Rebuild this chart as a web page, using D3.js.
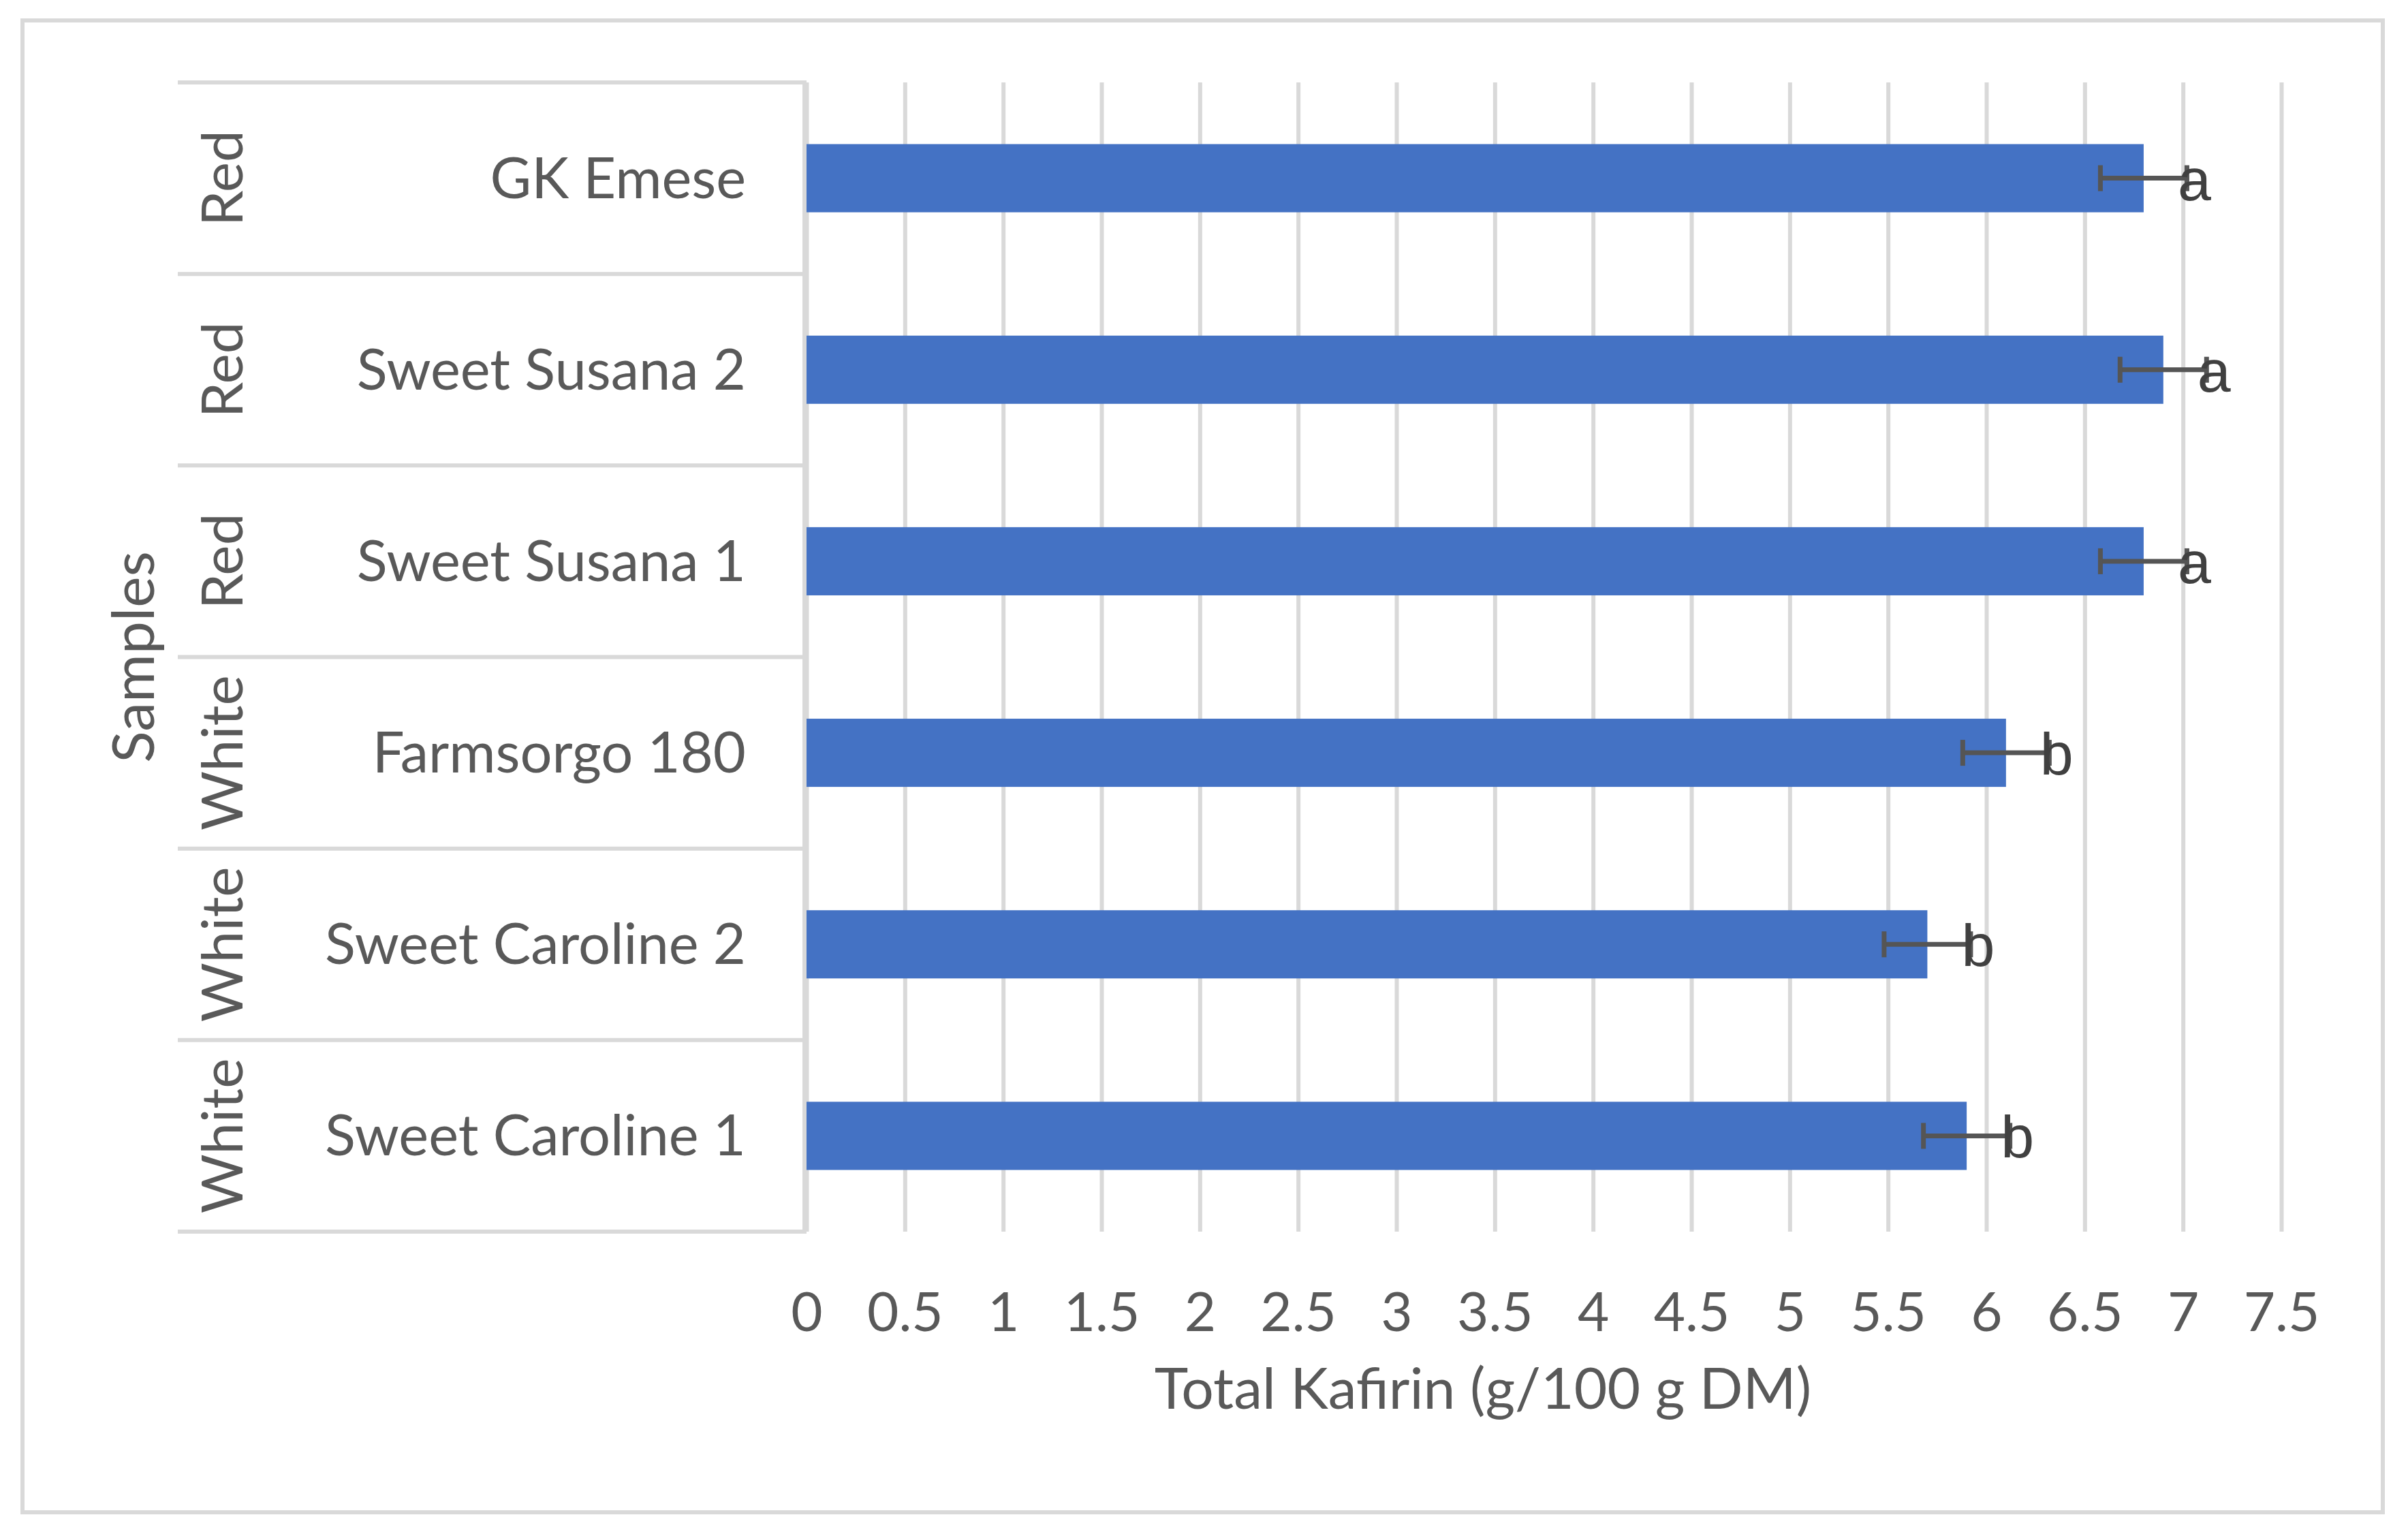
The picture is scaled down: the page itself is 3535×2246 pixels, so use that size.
<!DOCTYPE html>
<html>
<head>
<meta charset="utf-8">
<script src="https://cdn.jsdelivr.net/npm/d3@7"></script>
<style>
  html, body { margin: 0; padding: 0; background: #fff; }
  svg { display: block; }
</style>
</head>
<body>
<div id="chart"></div>
<script>
// data, top row first
var samples = ["GK Emese", "Sweet Susana 2", "Sweet Susana 1", "Farmsorgo 180", "Sweet Caroline 2", "Sweet Caroline 1"];
var groups = ["Red", "Red", "Red", "White", "White", "White"];
var kafirin = [6.80, 6.90, 6.80, 6.10, 5.70, 5.90];
var errors = [0.22, 0.22, 0.22, 0.22, 0.22, 0.22];
var letters = ["a", "a", "a", "b", "b", "b"];
var xTicks = [0, 0.5, 1, 1.5, 2, 2.5, 3, 3.5, 4, 4.5, 5, 5.5, 6, 6.5, 7, 7.5];
var xTickLabels = ["0", "0.5", "1", "1.5", "2", "2.5", "3", "3.5", "4", "4.5", "5", "5.5", "6", "6.5", "7", "7.5"];

var width = 3535, height = 2246;
var plot = { left: 1184, right: 3349, top: 121, bottom: 1808 };
var font = "Lato, 'Open Sans', sans-serif";
var textColor = "#595959";
var gridColor = "#d9d9d9";

var svg = d3.select("#chart").append("svg")
    .attr("width", width)
    .attr("height", height);

// outer chart border
svg.append("rect")
    .attr("x", 33).attr("y", 30)
    .attr("width", 3465).attr("height", 2190)
    .attr("fill", "#fff")
    .attr("stroke", gridColor)
    .attr("stroke-width", 6);

var x = d3.scaleLinear()
    .domain([0, 7.5])
    .range([plot.left, plot.right]);

var y = d3.scaleBand()
    .domain(samples)
    .range([plot.top, plot.bottom])
    .paddingInner(0.644)
    .paddingOuter(0.322);

// one full row per category, for separators and labels
var rows = d3.scaleBand()
    .domain(samples)
    .range([plot.top, plot.bottom]);

// vertical gridlines + tick labels
var xAxis = svg.append("g")
    .attr("transform", `translate(0, ${plot.bottom})`)
    .call(d3.axisBottom(x)
        .tickValues(xTicks)
        .tickSize(-(plot.bottom - plot.top))
        .tickFormat((d, i) => xTickLabels[i]));

xAxis.select(".domain").remove();
xAxis.selectAll(".tick line")
    .attr("stroke", gridColor)
    .attr("stroke-width", 6);
xAxis.selectAll(".tick text")
    .attr("y", 146)
    .attr("dy", 0)
    .attr("fill", textColor)
    .style("font-family", font)
    .style("font-size", "80px");

// bars
svg.selectAll(".bar")
    .data(kafirin)
    .enter()
    .append("rect")
    .attr("class", "bar")
    .attr("x", x(0))
    .attr("y", (d, i) => y(samples[i]))
    .attr("width", d => x(d) - x(0))
    .attr("height", y.bandwidth())
    .attr("fill", "#4472c4");

// error bars
var err = svg.selectAll(".err")
    .data(kafirin)
    .enter()
    .append("g")
    .attr("class", "err")
    .attr("stroke", "#555555")
    .attr("stroke-width", 7);

var cy = i => y(samples[i]) + y.bandwidth() / 2;

err.append("line")
    .attr("x1", (d, i) => x(d - errors[i]))
    .attr("x2", (d, i) => x(d + errors[i]))
    .attr("y1", (d, i) => cy(i))
    .attr("y2", (d, i) => cy(i));
err.append("line")
    .attr("x1", (d, i) => x(d - errors[i]))
    .attr("x2", (d, i) => x(d - errors[i]))
    .attr("y1", (d, i) => cy(i) - 19)
    .attr("y2", (d, i) => cy(i) + 19);
err.append("line")
    .attr("x1", (d, i) => x(d + errors[i]))
    .attr("x2", (d, i) => x(d + errors[i]))
    .attr("y1", (d, i) => cy(i) - 19)
    .attr("y2", (d, i) => cy(i) + 19);

// significance letters
svg.selectAll(".letter")
    .data(kafirin)
    .enter()
    .append("text")
    .attr("class", "letter")
    .attr("x", d => x(d) + 50)
    .attr("y", (d, i) => cy(i) + 32)
    .attr("fill", "#404040")
    .style("font-family", "'Liberation Sans', Arial, sans-serif")
    .style("font-size", "88px")
    .text((d, i) => letters[i]);

// category axis: line, row separators, two label levels
svg.append("line")
    .attr("x1", plot.left - 3).attr("x2", plot.left - 3)
    .attr("y1", plot.top - 3).attr("y2", plot.bottom + 3)
    .attr("stroke", gridColor)
    .attr("stroke-width", 6);

var bounds = samples.map(s => rows(s)).concat([plot.bottom]);
svg.selectAll(".sep")
    .data(bounds)
    .enter()
    .append("line")
    .attr("class", "sep")
    .attr("x1", 261).attr("x2", plot.left - 3)
    .attr("y1", d => d).attr("y2", d => d)
    .attr("stroke", gridColor)
    .attr("stroke-width", 6);

svg.selectAll(".sample")
    .data(samples)
    .enter()
    .append("text")
    .attr("class", "sample")
    .attr("x", 1095)
    .attr("y", d => rows(d) + rows.bandwidth() / 2 + 29)
    .attr("text-anchor", "end")
    .attr("fill", textColor)
    .style("font-family", font)
    .style("font-size", "83px")
    .text(d => d);

svg.selectAll(".group")
    .data(groups)
    .enter()
    .append("text")
    .attr("class", "group")
    .attr("transform", (d, i) => `translate(356, ${rows(samples[i]) + rows.bandwidth() / 2}) rotate(-90)`)
    .attr("text-anchor", "middle")
    .attr("fill", textColor)
    .style("font-family", font)
    .style("font-size", "84px")
    .text(d => d);

// axis titles
svg.append("text")
    .attr("transform", `translate(226, ${(plot.top + plot.bottom) / 2}) rotate(-90)`)
    .attr("text-anchor", "middle")
    .attr("fill", textColor)
    .style("font-family", font)
    .style("font-size", "86px")
    .text("Samples");

svg.append("text")
    .attr("x", 2177)
    .attr("y", 2068)
    .attr("text-anchor", "middle")
    .attr("fill", textColor)
    .style("font-family", font)
    .style("font-size", "84px")
    .text("Total Kafirin (g/100 g DM)");
</script>
</body>
</html>
